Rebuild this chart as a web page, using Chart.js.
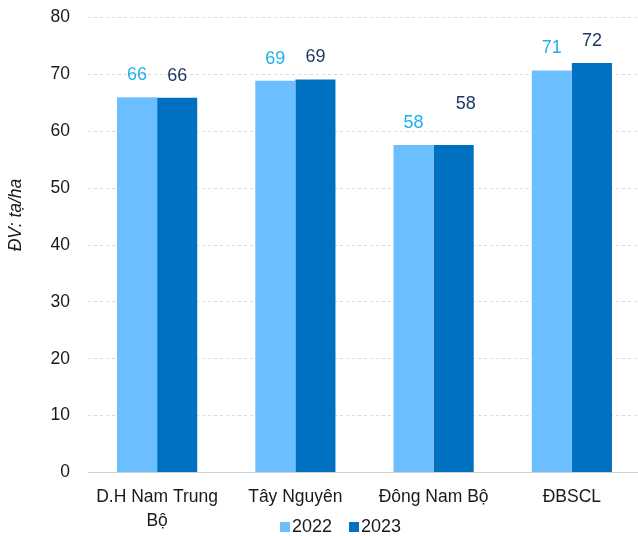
<!DOCTYPE html>
<html>
<head>
<meta charset="utf-8">
<script src="https://cdn.jsdelivr.net/npm/chart.js@4"></script>
<style>
  html, body { margin: 0; padding: 0; background: #ffffff; overflow: hidden; }
  #wrap { width: 638px; height: 536px; position: relative; overflow: hidden; }
  canvas { display: block; margin-top: -11px; }
</style>
</head>
<body>
<div id="wrap"><canvas id="c" width="641" height="547"></canvas></div>
<script>
// ---- Data ----
const categories = [["D.H Nam Trung", "Bộ"], "Tây Nguyên", "Đông Nam Bộ", "ĐBSCL"];
const seriesNames = ["2022", "2023"];
const values2022 = [66.0, 68.9, 57.6, 70.7];
const values2023 = [65.9, 69.1, 57.6, 72.0];
const yMin = 0, yMax = 80, yStep = 10;
const yAxisTitle = "ĐV: tạ/ha";

// ---- Styles ----
const FONT = "'Liberation Sans', Arial, sans-serif";
const barColors = ["#6BBFFE", "#0070C0"];
const labelColors = ["#1FB1EE", "#1F3864"];
const SHIFT = 11; // canvas is shifted up by this many pixels

const valueLabels = {
  id: 'valueLabels',
  afterDatasetsDraw(chart, args, opts) {
    const ctx = chart.ctx;
    ctx.save();
    ctx.font = "18px " + FONT;
    ctx.textAlign = 'center';
    ctx.textBaseline = 'middle';
    chart.data.datasets.forEach((ds, di) => {
      const meta = chart.getDatasetMeta(di);
      meta.data.forEach((bar, i) => {
        const n = (opts.nudge[di] && opts.nudge[di][i]) || [0, 0];
        ctx.fillStyle = labelColors[di];
        ctx.fillText(String(Math.round(ds.data[i])), bar.x + n[0], bar.y - 22 + n[1]);
      });
    });
    ctx.restore();
  }
};

const extras = {
  id: 'extras',
  afterDraw(chart) {
    const ctx = chart.ctx;
    ctx.save();
    // y-axis title
    ctx.translate(16, 215 + SHIFT);
    ctx.rotate(-Math.PI / 2);
    ctx.font = "italic 17.5px " + FONT;
    ctx.fillStyle = "#1a1a1a";
    ctx.textAlign = 'center';
    ctx.textBaseline = 'middle';
    ctx.fillText(yAxisTitle, 0, 0);
    ctx.restore();

    // legend
    ctx.save();
    ctx.font = "18px " + FONT;
    ctx.textBaseline = 'middle';
    ctx.textAlign = 'left';
    let x = 280;
    const y = 527 + SHIFT;
    chart.data.datasets.forEach((ds, di) => {
      ctx.fillStyle = ds.backgroundColor;
      ctx.fillRect(x, y - 5, 10, 10);
      ctx.fillStyle = "#1a1a1a";
      ctx.fillText(ds.label, x + 12, y);
      x += 12 + ctx.measureText(ds.label).width + 17;
    });
    ctx.restore();
  }
};

new Chart(document.getElementById('c'), {
  type: 'bar',
  data: {
    labels: categories,
    datasets: [
      { label: seriesNames[0], data: values2022, backgroundColor: barColors[0] },
      { label: seriesNames[1], data: values2023, backgroundColor: barColors[1] }
    ]
  },
  options: {
    responsive: false,
    animation: false,
    devicePixelRatio: 1,
    layout: { padding: { top: 0, right: 0, bottom: 0, left: 0 } },
    datasets: { bar: { categoryPercentage: 0.58, barPercentage: 1.0 } },
    plugins: {
      legend: { display: false },
      tooltip: { enabled: false },
      valueLabels: { nudge: { 1: { 2: [12, -19] } } }
    },
    scales: {
      x: {
        grid: { display: false, drawTicks: false },
        border: { display: true, color: '#D0D0D0', width: 1 },
        ticks: { color: '#1a1a1a', font: { family: FONT, size: 17.5, lineHeight: 1.4 }, padding: 12, maxRotation: 0, autoSkip: false },
        afterFit(scale) { scale.height = 63.5; }
      },
      y: {
        min: yMin, max: yMax,
        ticks: { stepSize: yStep, color: '#1a1a1a', font: { family: FONT, size: 17.5 }, padding: 18 },
        grid: { color: '#DADADA', drawTicks: false, tickLength: 0 },
        border: { display: false, dash: [3, 3] },
        afterFit(scale) { scale.width = 88; }
      }
    }
  },
  plugins: [valueLabels, extras]
});
</script>
</body>
</html>
